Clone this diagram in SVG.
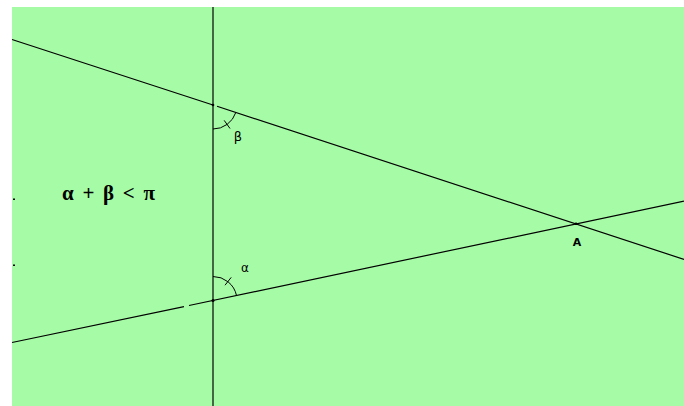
<svg xmlns="http://www.w3.org/2000/svg" width="684" height="406" viewBox="0 0 684 406">
<style>
.ln{stroke:#000;stroke-width:1.2;fill:none}
.arc{stroke:#000;stroke-width:1;fill:none}
.lbl{font-family:"DejaVu Sans","Liberation Sans",sans-serif;fill:#000}
.dot{fill:#000}
</style>
<rect x="0" y="0" width="684" height="406" fill="#fff"/>
<rect x="12" y="7" width="672" height="399" fill="#a6fca6"/>
<g id="connectors">
<line class="ln" x1="213" y1="7" x2="213" y2="406"/>
<line class="ln" x1="12" y1="39.5" x2="213" y2="105"/>
<line class="ln" x1="217" y1="106.3" x2="684" y2="259.4"/>
<line class="ln" x1="12" y1="342.5" x2="184" y2="306.6"/>
<line class="ln" x1="189" y1="305.5" x2="684" y2="201.2"/>
</g>
<g id="angle-beta">
<path class="arc" d="M213 129 A24 24 0 0 0 235.8 112.5"/>
<line class="arc" x1="224.2" y1="120.4" x2="230" y2="128.5"/>
<text class="lbl" x="238" y="141" font-size="13" text-anchor="middle">β</text>
</g>
<g id="angle-alpha">
<path class="arc" d="M213 276.5 A24 24 0 0 1 236.5 295.5"/>
<line class="arc" x1="225" y1="285.2" x2="231.2" y2="277.4"/>
<text class="lbl" x="245" y="272" font-size="12" text-anchor="middle">α</text>
</g>
<g id="point-A">
<circle class="dot" cx="576" cy="223.8" r="1.3"/>
<text class="lbl" x="577" y="246" font-size="11" font-weight="bold" text-anchor="middle">A</text>
</g>
<g id="points">
<circle class="dot" cx="213" cy="105" r="1.3"/>
<circle class="dot" cx="213" cy="300.5" r="1.5"/>
<rect class="dot" x="13" y="198.5" width="2" height="1.5"/>
<rect class="dot" x="13" y="264.5" width="2" height="1.5"/>
</g>
<g id="formula">
<text x="62" y="200" font-family="'Liberation Serif',serif" font-size="21" font-weight="bold" textLength="93" lengthAdjust="spacing" fill="#000">α + β &lt; π</text>
</g>
</svg>
